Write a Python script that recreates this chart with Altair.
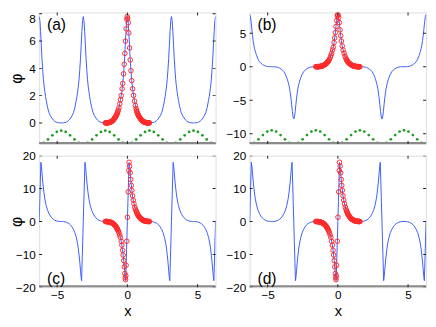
import math
import altair as alt
import pandas as pd

PI = math.pi
X_MIN, X_MAX = -2 * PI, 2 * PI

# ---------------- data ----------------
# centres of the repeated lobes (period pi)
CENTRES = [-2 * PI, -PI, 0.0, PI, 2 * PI]

# half profile of the even mode (panels a, b): distance from lobe centre -> phi
EVEN_T = [0.0, 0.05, 0.10, 0.15, 0.20, 0.25, 0.30, 0.35, 0.40, 0.45, 0.50,
          0.60, 0.70, 0.80, 0.90, 1.00, 1.10, 1.20, 1.30, 1.40, 1.50, 1.5708]
EVEN_PHI = [7.8, 7.5, 6.7, 5.7, 4.7, 3.9, 3.2, 2.7, 2.3, 1.95, 1.65,
            1.12, 0.75, 0.52, 0.36, 0.22, 0.12, 0.06, 0.025, 0.008, 0.0, 0.0]

# half profile of the odd mode (panels c, d)
ODD_T = [0.0, 0.04, 0.08, 0.12, 0.16, 0.20, 0.25, 0.30, 0.35, 0.40, 0.50,
         0.60, 0.70, 0.80, 0.90, 1.00, 1.10, 1.20, 1.30, 1.40, 1.50, 1.5708]
ODD_PHI = [0.0, 6.0, 12.0, 18.0, 16.8, 14.8, 12.3, 10.2, 8.4, 6.9, 4.8,
           3.4, 2.4, 1.65, 1.1, 0.7, 0.42, 0.23, 0.1, 0.035, 0.006, 0.0]

# sign of each lobe (same order as CENTRES)
SIGN_A = [1, 1, 1, 1, 1]
SIGN_B = [1, -1, 1, -1, 1]
SIGN_C = [1, 1, 1, 1, 1]
SIGN_D = [1, -1, 1, -1, 1]

# numerical points (red circles) of the even mode
E_LEFT_X = [-0.01, -0.04, -0.085, -0.135, -0.18, -0.225, -0.27, -0.33, -0.375, -0.44, -0.49, -0.54, -0.6]
E_LEFT_Y = [7.8, 7.6, 6.9, 6.0, 5.1, 4.3, 3.6, 2.9, 2.5, 2.0, 1.7, 1.4, 1.1]
E_RIGHT_X = [0.02, 0.06, 0.105, 0.16, 0.205, 0.255, 0.31, 0.375, 0.44, 0.51, 0.57, 0.62]
E_RIGHT_Y = [7.68, 7.34, 6.6, 5.5, 4.62, 3.83, 3.1, 2.5, 2.02, 1.6, 1.28, 1.05]
# densely packed points near the lobe edges (both sides)
BAND_T = [0.65, 0.68, 0.71, 0.74, 0.77, 0.80, 0.83, 0.86, 0.89, 0.92, 0.95, 0.98,
          1.01, 1.04, 1.07, 1.10, 1.13, 1.16, 1.19, 1.22, 1.25, 1.28, 1.31, 1.34,
          1.37, 1.40, 1.43, 1.46, 1.49, 1.52, 1.55, 1.57]
BAND_E = [0.93, 0.82, 0.73, 0.66, 0.59, 0.52, 0.47, 0.42, 0.38, 0.33, 0.29, 0.25,
          0.21, 0.18, 0.15, 0.12, 0.10, 0.085, 0.065, 0.053, 0.043, 0.032, 0.023, 0.018,
          0.013, 0.008, 0.006, 0.003, 0.001, 0.0, 0.0, 0.0]
BAND_O = [2.9, 2.6, 2.32, 2.1, 1.87, 1.65, 1.48, 1.32, 1.15, 1.02, 0.9, 0.78,
          0.67, 0.59, 0.5, 0.42, 0.36, 0.31, 0.25, 0.2, 0.165, 0.125, 0.095, 0.075,
          0.055, 0.035, 0.026, 0.017, 0.008, 0.004, 0.001, 0.0]

# numerical points of the odd mode
O_RIGHT_X = [0.009, 0.06, 0.103, 0.12, 0.16, 0.2, 0.24, 0.28, 0.32, 0.37, 0.42, 0.47, 0.53, 0.58, 0.62]
O_RIGHT_Y = [1.3, 9.0, 15.5, 18.0, 16.8, 14.8, 12.8, 11.0, 9.5, 7.8, 6.5, 5.4, 4.35, 3.7, 3.2]
O_LEFT_X = [-0.04, -0.089, -0.11, -0.13, -0.15, -0.18, -0.22, -0.26, -0.30, -0.34, -0.39, -0.44, -0.5, -0.55, -0.6]
O_LEFT_Y = [-6.0, -13.3, -16.5, -17.7, -17.1, -15.8, -13.8, -11.9, -10.2, -8.75, -7.2, -6.05, -4.8, -4.1, -3.4]

# potential (green dots), sampled every pi/10
GREEN_X = [-6.283, -5.969, -5.655, -5.341, -5.027, -4.712, -4.398, -4.084, -3.770, -3.456,
           -3.142, -2.827, -2.513, -2.199, -1.885, -1.571, -1.257, -0.942, -0.628, -0.314,
           0.0, 0.314, 0.628, 0.942, 1.257, 1.571, 1.885, 2.199, 2.513, 2.827,
           3.142, 3.456, 3.770, 4.084, 4.398, 4.712, 5.027, 5.341, 5.655, 5.969, 6.283]
GREEN_A_PERIOD = [-1.55, -1.46, -1.21, -0.91, -0.66, -0.57, -0.66, -0.91, -1.21, -1.46]
GREEN_B_PERIOD = [-11.55, -11.36, -10.84, -10.21, -9.69, -9.5, -9.69, -10.21, -10.84, -11.36]

Y_DOM = {"a": [-1.55, 8.1], "b": [-11.55, 8.1], "c": [-20, 20], "d": [-20, 20]}
Y_TICKS = {"a": [0, 2, 4, 6, 8], "b": [-10, -5, 0, 5], "c": [-20, -10, 0, 10, 20], "d": [-20, -10, 0, 10, 20]}
X_TICKS = [-5, 0, 5]

# ---------------- table building ----------------

def lobe_curve(ts, vals, signs, odd):
    rows = []
    for c, s in zip(CENTRES, signs):
        for t, v in zip(ts, vals):
            for side in (-1, 1):
                if t == 0 and side == -1:
                    continue
                x = c + side * t
                if x < X_MIN - 1e-9 or x > X_MAX + 1e-9:
                    continue
                y = s * v * (side if odd else 1)
                rows.append({"x": x, "phi": y})
    return pd.DataFrame(rows).sort_values("x")


def circles(odd):
    if odd:
        xs = O_LEFT_X + O_RIGHT_X + [-t for t in BAND_T] + BAND_T
        ys = O_LEFT_Y + O_RIGHT_Y + [-v for v in BAND_O] + BAND_O
    else:
        xs = E_LEFT_X + E_RIGHT_X + [-t for t in BAND_T] + BAND_T
        ys = E_LEFT_Y + E_RIGHT_Y + BAND_E + BAND_E
    return pd.DataFrame({"x": xs, "phi": ys})


def green(period):
    return pd.DataFrame({"x": GREEN_X, "phi": period * 4 + [period[0]]})


W, H = 181, 135
FONT = "Liberation Sans"
BLUE = "#3a5cff"
RED = "#ff2a2a"
GREEN = "#1f9e1f"
FRAME = "#222222"


def panel(key, line_df, circ_df, green_df, label, left, bottom):
    xs = alt.Scale(domain=[X_MIN, X_MAX], nice=False, zero=False)
    ys = alt.Scale(domain=Y_DOM[key], nice=False, zero=False)
    if bottom:
        x_axis = alt.Axis(values=X_TICKS, ticks=False, domain=False, grid=False,
                          labelFontSize=12, labelPadding=3, labelFont=FONT,
                          labelColor="black", title="x", titleFont=FONT,
                          titleFontSize=15, titleFontWeight="normal",
                          titleY=29, titleBaseline="alphabetic", titleColor="black")
    else:
        x_axis = None
    extra = {"labelFlush": 3} if key == "a" else {}
    y_axis = alt.Axis(values=Y_TICKS[key], ticks=False, domain=False, grid=False,
                      labelFontSize=12, labelPadding=4, labelFont=FONT, labelColor="black",
                      title="\u03c6" if left else " ", titleFont=FONT, titleFontSize=16,
                      titleFontWeight="normal", titleColor="black",
                      titleX=-23.5, titleY=H / 2, titleBaseline="middle",
                      titleAlign="center", **extra)

    X = alt.X("x:Q", scale=xs, axis=x_axis)
    Y = alt.Y("phi:Q", scale=ys, axis=y_axis)

    layers = []
    layers.append(alt.Chart(line_df).mark_line(color=BLUE, strokeWidth=1, clip=True).encode(x=X, y=Y))
    if green_df is not None:
        layers.append(alt.Chart(green_df).mark_point(shape="circle", filled=True, color=GREEN,
                                                     size=8, opacity=1, clip=True).encode(x=X, y=Y))
    one = pd.DataFrame({"d": [0]})
    layers.append(alt.Chart(one).mark_rule(color="#8a8a8a", strokeWidth=2).encode(
        x=alt.value(0), x2=alt.value(W), y=alt.value(H - 1)))
    layers.append(alt.Chart(circ_df).mark_point(shape="circle", filled=False, color=RED,
                                                size=22, strokeWidth=1, opacity=1, clip=True).encode(x=X, y=Y))
    yt = pd.DataFrame({"phi": Y_TICKS[key]})
    xt = pd.DataFrame({"x": X_TICKS})
    tick_kw = dict(color=FRAME, thickness=1, size=6, clip=True, opacity=1)
    layers.append(alt.Chart(yt).mark_tick(orient="horizontal", **tick_kw).encode(y=Y, x=alt.value(0)))
    layers.append(alt.Chart(yt).mark_tick(orient="horizontal", **tick_kw).encode(y=Y, x=alt.value(W)))
    layers.append(alt.Chart(xt).mark_tick(orient="vertical", **tick_kw).encode(x=X, y=alt.value(0)))
    layers.append(alt.Chart(xt).mark_tick(orient="vertical", **tick_kw).encode(x=X, y=alt.value(H)))
    lab_y = 18 if not bottom else H - 3
    layers.append(alt.Chart(pd.DataFrame({"t": [label]})).mark_text(
        align="left", baseline="alphabetic", font=FONT, fontSize=16, color="black").encode(
        x=alt.value(8), y=alt.value(lab_y), text="t:N"))
    return alt.layer(*layers).properties(width=W, height=H)


pa = panel("a", lobe_curve(EVEN_T, EVEN_PHI, SIGN_A, False), circles(False), green(GREEN_A_PERIOD), "(a)", True, False)
pb = panel("b", lobe_curve(EVEN_T, EVEN_PHI, SIGN_B, False), circles(False), green(GREEN_B_PERIOD), "(b)", False, False)
pc = panel("c", lobe_curve(ODD_T, ODD_PHI, SIGN_C, True), circles(True), None, "(c)", True, True)
pd_ = panel("d", lobe_curve(ODD_T, ODD_PHI, SIGN_D, True), circles(True), None, "(d)", False, True)

chart = alt.concat(pa, pb, pc, pd_, columns=2, spacing={"row": 4, "column": 1}).properties(
    padding={"left": 0, "top": -0.5, "right": 0, "bottom": -3}
).configure_view(stroke=FRAME, strokeWidth=1).configure(background="white")

chart.save("out.html", embed_options={"renderer": "svg", "actions": False})
